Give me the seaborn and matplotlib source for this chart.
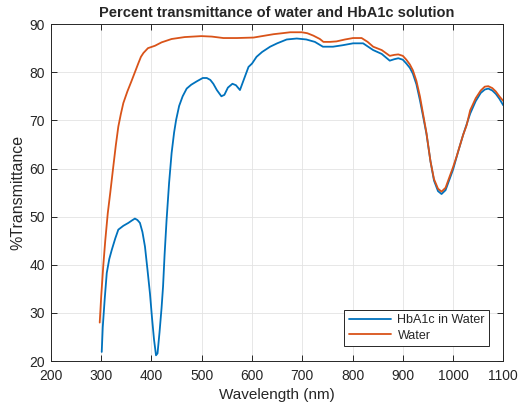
import pandas as pd
import matplotlib
matplotlib.use('Agg')
import matplotlib.pyplot as plt
import seaborn as sns

# wavelength (nm) / %T
wl_hba1c = [301, 303, 307, 311, 316, 321, 328, 334, 344, 354, 361, 367, 372, 377,
            382, 387, 392, 397, 401, 405, 409, 412, 416, 420, 423, 426, 430, 435,
            440, 445, 449, 455, 462, 470, 479, 490, 502, 510, 517, 523, 530, 539,
            545, 552, 561, 568, 576, 582, 593, 600, 609, 620, 636, 650, 669, 689,
            708, 725, 741, 761, 780, 801, 821, 841, 858, 874, 883, 891, 900, 907,
            914, 920, 927, 934, 940, 947, 955, 962, 970, 977, 985, 993, 1000, 1010,
            1020, 1034, 1045, 1055, 1063, 1070, 1078, 1085, 1092, 1100]
t_hba1c = [21.9, 27.0, 33.0, 38.3, 41.2, 43.1, 45.5, 47.3, 48.1, 48.7, 49.2, 49.6,
           49.3, 48.7, 46.8, 43.8, 39.0, 34.0, 29.0, 24.5, 21.2, 21.6, 26.0, 31.0,
           35.5, 42.0, 49.3, 57.0, 63.2, 67.5, 70.1, 73.0, 75.0, 76.6, 77.4, 78.1,
           78.8, 78.8, 78.4, 77.6, 76.3, 75.0, 75.3, 76.8, 77.6, 77.3, 76.3, 78.0,
           81.1, 81.8, 83.2, 84.2, 85.3, 86.0, 86.8, 87.0, 86.8, 86.3, 85.3, 85.3,
           85.6, 86.0, 86.0, 84.6, 83.8, 82.4, 82.7, 82.9, 82.6, 81.8, 80.9, 79.7,
           77.5, 74.2, 71.0, 67.2, 61.5, 57.5, 55.3, 54.7, 55.5, 57.8, 59.8, 63.5,
           67.0, 71.4, 74.0, 75.7, 76.4, 76.6, 76.2, 75.5, 74.5, 73.1]

wl_water = [297, 300, 304, 308, 313, 318, 324, 329, 334, 339, 344, 352, 360, 367,
            374, 379, 384, 393, 407, 420, 440, 466, 499, 520, 543, 570, 603, 620,
            643, 660, 676, 699, 710, 722, 735, 742, 755, 768, 785, 801, 818, 830,
            841, 858, 874, 883, 891, 900, 907, 914, 920, 927, 934, 940, 947, 955,
            962, 970, 977, 985, 993, 1000, 1007, 1020, 1027, 1034, 1045, 1055, 1063,
            1070, 1078, 1085, 1092, 1100]
t_water = [28.0, 33.5, 39.7, 45.0, 50.7, 55.0, 60.4, 64.8, 68.7, 71.3, 73.6, 76.0,
           78.1, 80.0, 81.9, 83.2, 84.0, 85.0, 85.5, 86.2, 86.9, 87.3, 87.5, 87.4,
           87.1, 87.1, 87.2, 87.5, 87.9, 88.1, 88.3, 88.3, 88.1, 87.6, 86.9, 86.3,
           86.3, 86.4, 86.8, 87.1, 87.1, 86.3, 85.3, 84.6, 83.4, 83.6, 83.7, 83.4,
           82.6, 81.6, 80.4, 78.2, 75.0, 71.5, 67.4, 61.5, 57.8, 55.8, 55.2, 56.0,
           58.3, 60.3, 62.5, 67.0, 69.0, 72.1, 74.6, 76.2, 77.0, 77.1, 76.7, 76.0,
           75.0, 74.0]

labels = ["HbA1c in Water", "Water"]
colors = ["#0072BD", "#D95319"]

df = pd.concat([
    pd.DataFrame({"wl": wl_hba1c, "T": t_hba1c, "sample": labels[0]}),
    pd.DataFrame({"wl": wl_water, "T": t_water, "sample": labels[1]}),
])

sns.set_theme(style="whitegrid")
plt.rcParams['font.family'] = ['Liberation Sans', 'DejaVu Sans']

fig = plt.figure(figsize=(5.2, 4.08), dpi=100)
ax = fig.add_axes([0.098, 0.115, 0.870, 0.826])

sns.lineplot(data=df, x="wl", y="T", hue="sample", palette=colors,
             sort=False, estimator=None, linewidth=1.3, ax=ax)

ax.set_xlim(200, 1100)
ax.set_ylim(20, 90)
ax.set_xticks(range(200, 1101, 100))
ax.set_yticks(range(20, 91, 10))
ax.set_xlabel("Wavelength (nm)", fontsize=11, color="#262626", labelpad=3)
ax.set_ylabel("%Transmittance", fontsize=11.5, color="#262626", labelpad=3)
ax.set_title("Percent transmittance of water and HbA1c solution",
             fontsize=10.5, fontweight="bold", pad=5)

ax.set_facecolor("white")
ax.grid(True, color="#e3e3e3", linewidth=0.6)
for s in ax.spines.values():
    s.set_visible(True)
    s.set_color("#262626")
    s.set_linewidth(0.7)
ax.tick_params(direction="in", length=4, width=0.7, colors="#262626",
               labelsize=10, top=True, right=True, bottom=True, left=True)
ax.tick_params(axis="x", pad=6)
ax.tick_params(axis="y", pad=4.5)

leg = ax.legend(loc="lower right", bbox_to_anchor=(0.969, 0.0445),
                borderaxespad=0, fontsize=9, frameon=True, fancybox=False,
                handlelength=3.4, handletextpad=0.5, borderpad=0.35,
                labelspacing=0.3, edgecolor="#262626", framealpha=1)
leg.get_frame().set_linewidth(0.7)
leg.set_title(None)

fig.savefig("out.png", dpi=100)
